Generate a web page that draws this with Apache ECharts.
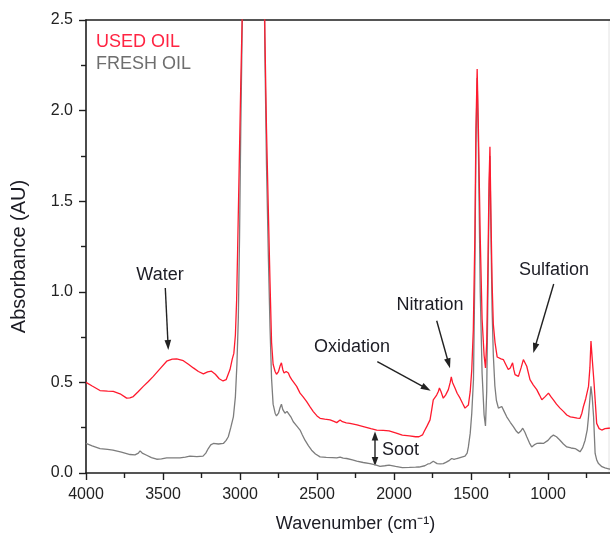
<!DOCTYPE html>
<html>
<head>
<meta charset="utf-8">
<script src="https://cdn.jsdelivr.net/npm/echarts@6/dist/echarts.min.js"></script>
<style>
html,body{margin:0;padding:0;background:#fff;}
#chart{width:610px;height:534px;}
</style>
</head>
<body>
<div id="chart"></div>
<script>
// ---- Data ----
var usedWavenumber = [4000,3960,3909,3860,3823,3779,3736,3715,3693,3660,3628,3595,3563,3520,3476,3440,3411,3368,3335,3303,3270,3238,3210,3185,3160,3135,3110,3090,3065,3050,3040,3030,3022,3015,3005,2995,2985,2970,2955,2925,2900,2880,2855,2845,2838,2828,2816,2805,2795,2785,2772,2763,2750,2740,2731,2722,2714,2700,2686,2675,2664,2632,2610,2590,2567,2545,2524,2500,2480,2450,2415,2390,2372,2360,2350,2335,2310,2286,2240,2199,2150,2112,2070,2032,1990,1946,1900,1860,1838,1815,1805,1785,1766,1755,1745,1735,1723,1712,1705,1695,1680,1665,1647,1635,1628,1620,1604,1590,1571,1555,1539,1527,1517,1505,1495,1485,1475,1468,1460,1452,1440,1428,1415,1406,1398,1390,1383,1377,1371,1363,1355,1344,1330,1322,1305,1290,1275,1258,1245,1230,1222,1214,1192,1175,1160,1150,1138,1117,1095,1073,1055,1040,1020,997,980,965,945,922,900,878,855,835,810,792,780,770,755,737,728,721,712,701,692,684,668,651,630,608,590];
var usedAbsorbance = [0.50,0.48,0.455,0.452,0.45,0.437,0.413,0.415,0.422,0.45,0.478,0.505,0.533,0.575,0.617,0.628,0.63,0.62,0.60,0.58,0.56,0.547,0.558,0.562,0.545,0.52,0.508,0.515,0.571,0.63,0.66,0.76,0.95,1.25,1.7,2.15,2.55,3.0,3.4,3.9,3.3,3.2,3.6,2.9,2.4,1.9,1.45,1.05,0.72,0.60,0.56,0.545,0.56,0.59,0.608,0.57,0.552,0.56,0.552,0.53,0.515,0.478,0.441,0.42,0.394,0.365,0.339,0.315,0.302,0.297,0.293,0.285,0.278,0.285,0.293,0.283,0.277,0.274,0.265,0.256,0.245,0.237,0.235,0.232,0.222,0.209,0.205,0.20,0.20,0.21,0.228,0.26,0.293,0.35,0.404,0.41,0.43,0.45,0.469,0.45,0.413,0.43,0.46,0.50,0.53,0.50,0.469,0.44,0.413,0.385,0.358,0.36,0.375,0.45,0.57,0.79,1.3,1.9,2.23,1.9,1.3,0.85,0.65,0.58,0.72,1.15,1.6,1.80,1.45,1.05,0.82,0.72,0.64,0.636,0.63,0.626,0.60,0.571,0.58,0.608,0.57,0.543,0.533,0.58,0.626,0.615,0.589,0.515,0.485,0.46,0.43,0.404,0.42,0.441,0.42,0.404,0.38,0.358,0.34,0.32,0.31,0.307,0.303,0.302,0.33,0.367,0.41,0.478,0.58,0.728,0.62,0.497,0.38,0.274,0.245,0.237,0.245,0.247,0.248];

var freshWavenumber = [4000,3960,3909,3860,3825,3770,3714,3682,3660,3649,3635,3606,3575,3541,3510,3476,3430,3390,3355,3325,3280,3240,3222,3206,3190,3173,3140,3108,3090,3076,3060,3043,3030,3020,3011,3003,2995,2985,2970,2955,2925,2900,2880,2855,2845,2838,2828,2816,2805,2795,2785,2772,2763,2750,2740,2731,2722,2708,2695,2686,2670,2654,2632,2610,2595,2578,2555,2535,2510,2480,2440,2400,2372,2350,2330,2307,2270,2242,2200,2156,2120,2091,2060,2032,1990,1946,1900,1860,1838,1800,1780,1766,1755,1745,1735,1720,1700,1680,1660,1640,1625,1610,1592,1560,1539,1525,1517,1505,1495,1484,1475,1468,1460,1452,1440,1428,1415,1406,1398,1390,1383,1377,1371,1363,1355,1345,1335,1322,1310,1300,1285,1268,1245,1225,1205,1192,1178,1164,1150,1138,1120,1106,1090,1073,1050,1030,1000,980,965,945,922,900,878,850,824,805,792,775,759,745,737,727,721,713,704,694,683,672,650,630,618,600,590];
var freshAbsorbance = [0.163,0.15,0.135,0.13,0.126,0.115,0.102,0.10,0.11,0.122,0.11,0.098,0.085,0.076,0.078,0.083,0.083,0.083,0.088,0.093,0.09,0.093,0.11,0.135,0.155,0.163,0.16,0.163,0.18,0.2,0.25,0.31,0.42,0.6,0.85,1.3,1.9,2.5,3.0,3.4,3.9,3.3,3.2,3.6,2.85,2.3,1.7,1.2,0.8,0.52,0.38,0.33,0.315,0.33,0.36,0.38,0.35,0.33,0.34,0.34,0.31,0.283,0.26,0.237,0.21,0.181,0.15,0.126,0.105,0.089,0.086,0.085,0.083,0.088,0.082,0.08,0.072,0.065,0.058,0.052,0.045,0.037,0.04,0.043,0.036,0.030,0.031,0.032,0.033,0.04,0.05,0.052,0.06,0.065,0.055,0.052,0.05,0.052,0.06,0.07,0.08,0.075,0.08,0.088,0.093,0.11,0.144,0.22,0.33,0.515,1.1,1.8,2.18,1.8,1.0,0.55,0.32,0.26,0.45,1.0,1.5,1.75,1.35,0.9,0.65,0.48,0.40,0.358,0.36,0.367,0.34,0.31,0.28,0.256,0.23,0.219,0.23,0.247,0.225,0.2,0.165,0.144,0.155,0.163,0.165,0.163,0.18,0.2,0.209,0.2,0.181,0.16,0.144,0.138,0.135,0.125,0.117,0.14,0.181,0.24,0.31,0.42,0.478,0.42,0.31,0.108,0.07,0.052,0.035,0.028,0.024,0.022,0.022];

var seriesNames = ['USED OIL', 'FRESH OIL'];
var xTicks = [500, 4000, 500];   // min, max, interval
var yTicks = [0, 2.5, 0.5];      // min, max, interval
var annotationTexts = ['Water', 'Oxidation', 'Nitration', 'Sulfation', 'Soot'];

function pairs(xs, ys) {
  var out = [];
  for (var i = 0; i < xs.length; i++) out.push([xs[i], ys[i]]);
  return out;
}

var FONT = "'Liberation Sans', Arial, Helvetica, sans-serif";
var RED = '#ff1a2e';
var GRAY = '#7d7d7d';
var AXIS = '#1e1e1e';
var TXT = '#1c1c24';

function arrowHead(x1, y1, x2, y2, len, w) {
  var dx = x2 - x1, dy = y2 - y1;
  var d = Math.sqrt(dx*dx + dy*dy);
  var ux = dx/d, uy = dy/d;
  var bx = x2 - ux*len, by = y2 - uy*len;
  return {
    type: 'polygon',
    shape: { points: [[x2, y2], [bx - uy*w, by + ux*w], [bx + uy*w, by - ux*w]] },
    style: { fill: '#222' }
  };
}
function arrow(x1, y1, x2, y2) {
  var dx = x2 - x1, dy = y2 - y1;
  var d = Math.sqrt(dx*dx + dy*dy);
  var ex = x2 - dx/d*6, ey = y2 - dy/d*6;
  return [
    { type: 'line', shape: { x1: x1, y1: y1, x2: ex, y2: ey }, style: { stroke: '#222', lineWidth: 1.4 } },
    arrowHead(x1, y1, x2, y2, 10, 3.3)
  ];
}
function label(text, x, y) {
  return { type: 'text', x: x, y: y,
    style: { text: text, fontSize: 18, fontFamily: FONT, fill: TXT, align: 'center', verticalAlign: 'middle' } };
}

var graphics = [];
graphics.push({ type: 'line', shape: { x1: 609, y1: 20, x2: 609, y2: 473 }, style: { stroke: '#e2e2e2', lineWidth: 1 } });
graphics.push({ type: 'text', x: 96, y: 42,
  style: { text: seriesNames[0], fontSize: 18, fontFamily: FONT, fill: '#ff2442', align: 'left', verticalAlign: 'middle' } });
graphics.push({ type: 'text', x: 96, y: 64,
  style: { text: seriesNames[1], fontSize: 18, fontFamily: FONT, fill: '#6e6e6e', align: 'left', verticalAlign: 'middle' } });
graphics.push(label(annotationTexts[0], 160, 275));
graphics = graphics.concat(arrow(165.3, 288, 168.3, 350));
graphics.push(label(annotationTexts[1], 352, 347.5));
graphics = graphics.concat(arrow(377.3, 361.7, 430.7, 390.7));
graphics.push(label(annotationTexts[2], 430, 305.5));
graphics = graphics.concat(arrow(436.7, 320.7, 450, 368.3));
graphics.push(label(annotationTexts[3], 554, 270));
graphics = graphics.concat(arrow(553.7, 284, 533.3, 353));
graphics.push(label(annotationTexts[4], 400.5, 449.7));
// Soot double arrow
graphics.push({ type: 'line', shape: { x1: 375, y1: 438, x2: 375, y2: 460 }, style: { stroke: '#222', lineWidth: 1.4 } });
graphics.push(arrowHead(375, 460, 375, 431.5, 9, 3.3));
graphics.push(arrowHead(375, 438, 375, 466, 9, 3.3));

var chart = echarts.init(document.getElementById('chart'), null, { renderer: 'canvas' });
chart.setOption({
  animation: false,
  backgroundColor: '#fff',
  grid: { left: 86, top: 20, width: 539, height: 453, containLabel: false, outerBoundsMode: 'none' },
  xAxis: [{
    type: 'value', inverse: true, min: xTicks[0], max: xTicks[1], interval: xTicks[2],
    position: 'bottom',
    name: 'Wavenumber (cm\u207B\u00B9)', nameLocation: 'middle', nameGap: 42,
    nameTextStyle: { fontSize: 18, fontFamily: FONT, color: TXT },
    axisLine: { show: true, onZero: false, lineStyle: { color: AXIS, width: 1.6 } },
    axisTick: { show: true, inside: false, length: 7, lineStyle: { color: AXIS, width: 1.4 } },
    minorTick: { show: true, splitNumber: 2, length: 5, lineStyle: { color: AXIS, width: 1.4 } },
    axisLabel: { fontSize: 16, fontFamily: FONT, color: '#222', margin: 14,
      formatter: function (v) { return String(v); } },
    splitLine: { show: false }
  }, {
    type: 'value', inverse: true, min: xTicks[0], max: xTicks[1], interval: xTicks[2],
    position: 'top',
    axisLine: { show: true, onZero: false, lineStyle: { color: AXIS, width: 1.6 } },
    axisTick: { show: false }, axisLabel: { show: false }, splitLine: { show: false }
  }],
  yAxis: {
    type: 'value', min: yTicks[0], max: yTicks[1], interval: yTicks[2],
    name: 'Absorbance (AU)', nameLocation: 'middle', nameGap: 57,
    nameTextStyle: { fontSize: 20, fontFamily: FONT, color: TXT, padding: [0, 20, 0, 0] },
    axisLine: { show: true, onZero: false, lineStyle: { color: AXIS, width: 1.6 } },
    axisTick: { show: true, inside: false, length: 7, lineStyle: { color: AXIS, width: 1.4 } },
    minorTick: { show: true, splitNumber: 2, length: 5, lineStyle: { color: AXIS, width: 1.4 } },
    axisLabel: { fontSize: 16, fontFamily: FONT, color: '#222', margin: 13,
      formatter: function (v) { return v.toFixed(1); } },
    splitLine: { show: false }
  },
  series: [{
    name: seriesNames[1], type: 'line', xAxisIndex: 0, data: pairs(freshWavenumber, freshAbsorbance),
    showSymbol: false, symbol: 'none', clip: true,
    lineStyle: { color: GRAY, width: 1.3 }, z: 2
  }, {
    name: seriesNames[0], type: 'line', xAxisIndex: 0, data: pairs(usedWavenumber, usedAbsorbance),
    showSymbol: false, symbol: 'none', clip: true,
    lineStyle: { color: RED, width: 1.3 }, z: 3
  }],
  graphic: graphics
});
</script>
</body>
</html>
